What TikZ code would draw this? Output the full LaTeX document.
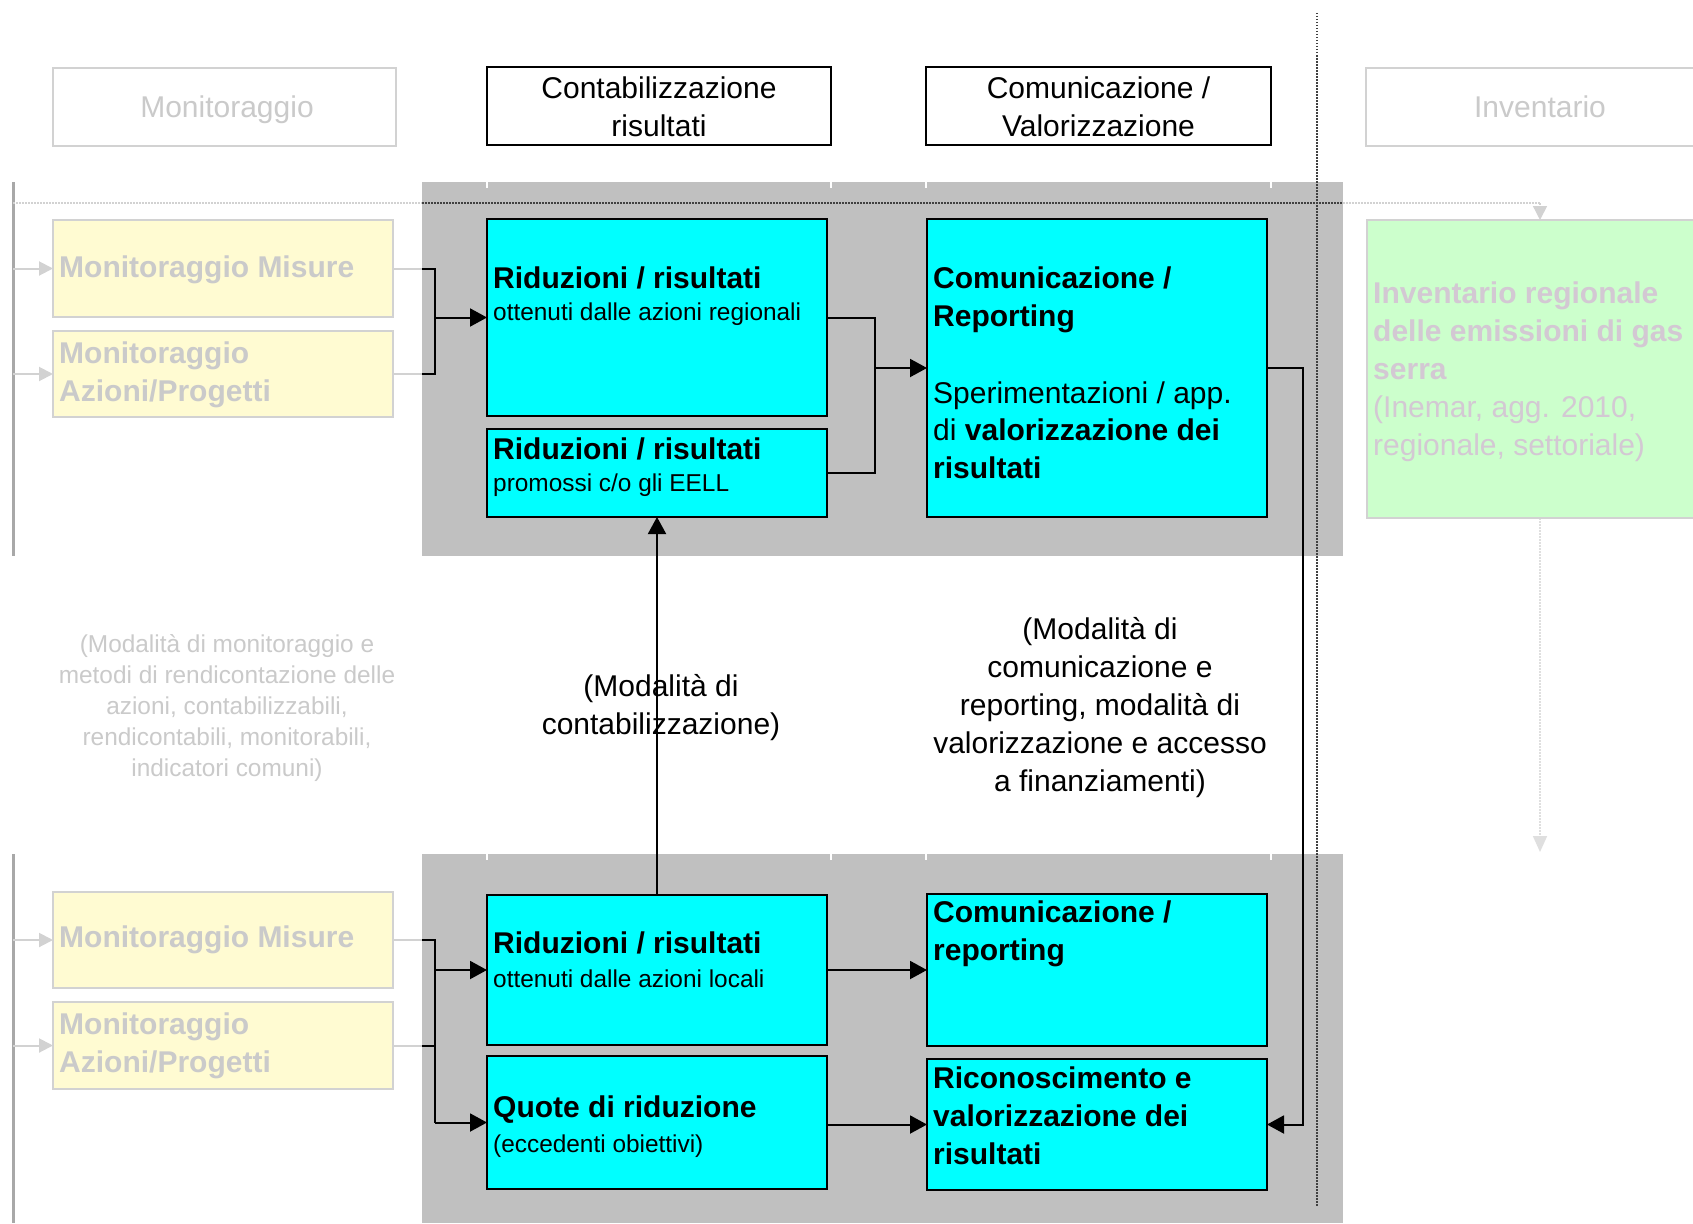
\documentclass[tikz,border=0pt]{standalone}
\usepackage{fontspec}
\setmainfont{Liberation Sans}
\usetikzlibrary{arrows.meta}
\definecolor{cyanc}{HTML}{00FFFF}
\definecolor{bandc}{HTML}{C0C0C0}
\definecolor{yelc}{HTML}{FFFBD2}
\definecolor{grnc}{HTML}{CCFFCC}
\definecolor{fadec}{HTML}{CACACA}
\definecolor{mauvec}{HTML}{D3C8D3}
\definecolor{fadeline}{HTML}{D2D2D2}
\definecolor{leftline}{HTML}{A8A8A8}
\newcommand\fbig{\fontsize{30}{38}\selectfont}
\newcommand\fmid{\fontsize{30}{37.5}\selectfont}
\newcommand\fsmall{\fontsize{24.4}{31}\selectfont}
\begin{document}
\begin{tikzpicture}[x=1pt,y=-1pt,
 cyanbox/.style={draw=black,line width=2pt,fill=cyanc,inner sep=0,outer sep=0,anchor=north west},
 yelbox/.style={draw=fadeline,line width=1.5pt,fill=yelc,inner sep=0,outer sep=0,anchor=north west},
 grnbox/.style={draw=fadeline,line width=1.5pt,fill=grnc,inner sep=0,outer sep=0,anchor=north west},
 headbox/.style={draw=black,line width=2.5pt,fill=white,inner sep=0,outer sep=0,anchor=north west},
 fadehead/.style={draw=fadeline,line width=2.5pt,fill=white,inner sep=0,outer sep=0,anchor=north west},
 bt/.style={anchor=base west,inner sep=0,font=\fbig\bfseries},
 st/.style={anchor=base west,inner sep=0,font=\fsmall},
 ht/.style={anchor=base,inner sep=0,align=center,font=\fbig},
 conn/.style={line width=2pt,black},
 arr/.style={conn,-{Triangle[length=17pt,width=18pt]}},
 fadeconn/.style={line width=2pt,fadeline},
 fadearr/.style={fadeconn,-{Triangle[length=14pt,width=14pt]}},
 dotdark/.style={line width=1.5pt,black!75,dash pattern=on 1.5pt off 1.5pt},
 dotlight/.style={line width=1.5pt,fadeline,dash pattern=on 1.5pt off 1.5pt},
 tick/.style={line width=2pt,white},
]
\useasboundingbox (0,0) rectangle (1693,1223);
\clip (0,0) rectangle (1693,1223);
\fill[white] (0,0) rectangle (1693,1223);

% gray bands
\fill[bandc] (422,182) rectangle (1343,556);
\fill[bandc] (422,854) rectangle (1343,1223);
\foreach \xx in {487,831,926,1271}{
  \draw[tick] (\xx,182) -- (\xx,188);
  \draw[tick] (\xx,854) -- (\xx,860);
}
% left vertical lines
\draw[line width=3pt,leftline] (13,182) -- (13,556);
\draw[line width=3pt,leftline] (13,854) -- (13,1223);

% dotted guide lines
\draw[dotdark] (1317,13) -- (1317,1207);
\coordinate (hl0) at (13,203);
\coordinate (hl1) at (422,203);
\coordinate (hl2) at (1343,203);
\coordinate (hl3) at (1540,203);
\coordinate (gtop) at (1540,220);
\coordinate (gbot) at (1540,518);
\coordinate (gend) at (1540,852);
\draw[dotlight] (hl0) -- (hl1);
\draw[dotdark] (hl1) -- (hl2);
\draw[dotlight] (hl2) -- (hl3);
\draw[dotlight,-{Triangle[length=14pt,width=14pt]}] (hl3) -- (gtop);
\draw[dotlight,fadeline!70,-{Triangle[length=16pt,width=14pt]}] (gbot) -- (gend);

% header boxes
\node[fadehead,minimum width=343pt,minimum height=78pt] (hmon) at (53,68) {};
\node[ht,text=fadec] (hmont) at (227,117) {Monitoraggio};
\node[headbox,minimum width=344pt,minimum height=78pt] (hcon) at (487,67) {};
\node[ht] (hcont) at (659,136) {Contabilizzazione\\risultati};
\node[headbox,minimum width=345pt,minimum height=78pt] (hcom) at (926,67) {};
\node[ht] (hcomt) at (1098.5,136) {Comunicazione /\\Valorizzazione};
\node[fadehead,minimum width=360pt,minimum height=78pt] (hinv) at (1366,68) {};
\node[ht,text=fadec] (hinvt) at (1540,117) {Inventario};

% yellow boxes (top)
\node[yelbox,minimum width=340pt,minimum height=97pt] (ym1) at (53,220) {};
\node[bt,text=fadec] (ym1t) at (59,277) {Monitoraggio Misure};
\node[yelbox,minimum width=340pt,minimum height=86pt] (ya1) at (53,331) {};
\node[bt,text=fadec,align=left] (ya1t) at (59,401) {Monitoraggio\\Azioni/Progetti};
% yellow boxes (bottom)
\node[yelbox,minimum width=340pt,minimum height=96pt] (ym2) at (53,892) {};
\node[bt,text=fadec] (ym2t) at (59,947) {Monitoraggio Misure};
\node[yelbox,minimum width=340pt,minimum height=87pt] (ya2) at (53,1002) {};
\node[bt,text=fadec,align=left] (ya2t) at (59,1072) {Monitoraggio\\Azioni/Progetti};

% cyan boxes
\node[cyanbox,minimum width=340pt,minimum height=197pt] (r1) at (487,219) {};
\node[bt] (r1a) at (493,288) {Riduzioni / risultati};
\node[st] (r1b) at (493,320) {ottenuti dalle azioni regionali};
\node[cyanbox,minimum width=340pt,minimum height=88pt] (r2) at (487,429) {};
\node[bt] (r2a) at (493,459) {Riduzioni / risultati};
\node[st] (r2b) at (493,491) {promossi c/o gli EELL};
\node[cyanbox,minimum width=340pt,minimum height=298pt] (c1) at (927,219) {};
\node[bt,align=left] (c1a) at (933,326) {Comunicazione /\\Reporting};
\node[anchor=base west,inner sep=0,align=left,font=\fmid] (c1b) at (933,478) {Sperimentazioni / app.\\di \textbf{valorizzazione dei}\\\textbf{risultati}};

\node[cyanbox,minimum width=340pt,minimum height=150pt] (l1) at (487,895) {};
\node[bt] (l1a) at (493,953) {Riduzioni / risultati};
\node[st] (l1b) at (493,987) {ottenuti dalle azioni locali};
\node[cyanbox,minimum width=340pt,minimum height=133pt] (l2) at (487,1056) {};
\node[bt] (l2a) at (493,1117) {Quote di riduzione};
\node[st] (l2b) at (493,1152) {(eccedenti obiettivi)};
\node[cyanbox,minimum width=340pt,minimum height=152pt] (c2) at (927,894) {};
\node[bt,align=left] (c2a) at (933,960) {Comunicazione /\\reporting};
\node[cyanbox,minimum width=340pt,minimum height=131pt] (c3) at (927,1059) {};
\node[bt,align=left] (c3a) at (933,1164) {Riconoscimento e\\valorizzazione dei\\risultati};

% green box
\node[grnbox,minimum width=360pt,minimum height=298pt] (gr) at (1367,220) {};
\node[anchor=base west,inner sep=0,align=left,font=\fbig,text=mauvec] (grt) at (1373,455) {\textbf{Inventario regionale}\\\textbf{delle emissioni di gas}\\\textbf{serra}\\(Inemar, agg. 2010,\\regionale, settoriale)};

% middle texts
\node[anchor=base,inner sep=0,align=center,font=\fsmall,text=fadec] (nmon) at (227,776) {(Modalità di monitoraggio e\\metodi di rendicontazione delle\\azioni, contabilizzabili,\\rendicontabili, monitorabili,\\indicatori comuni)};
\node[ht] (ncon) at (661,734) {(Modalità di\\contabilizzazione)};
\node[ht] (ncom) at (1100,791) {(Modalità di\\comunicazione e\\reporting, modalità di\\valorizzazione e accesso\\a finanziamenti)};

% connectors
\coordinate (lx) at (13,0);
\coordinate (bandl) at (422,0);
\coordinate (bk1) at (435,0);
\coordinate (bk2) at (875,0);
\coordinate (bk3) at (1303,0);
% top left
\draw[fadearr] (lx |- ym1.west) -- (ym1.west);
\draw[fadearr] (lx |- ya1.west) -- (ya1.west);
\draw[fadeconn] (ym1.east) -- (bandl |- ym1.east);
\draw[fadeconn] (ya1.east) -- (bandl |- ya1.east);
\draw[conn] (bandl |- ym1.east) -- (bk1 |- ym1.east) -- (bk1 |- ya1.east) -- (bandl |- ya1.east);
\draw[arr] (bk1 |- r1.west) -- (r1.west);
% top middle
\draw[conn] (r1.east) -- (bk2 |- r1.east) -- (bk2 |- r2.east) -- (r2.east);
\draw[arr] (bk2 |- c1.west) -- (c1.west);
% long right connector
\draw[arr] (c1.east) -- (bk3 |- c1.east) -- (bk3 |- c3.east) -- (c3.east);
% upward
\draw[arr] (l1.north) -- (r2.south);
% bottom left
\draw[fadearr] (lx |- ym2.west) -- (ym2.west);
\draw[fadearr] (lx |- ya2.west) -- (ya2.west);
\draw[fadeconn] (ym2.east) -- (bandl |- ym2.east);
\draw[fadeconn] (ya2.east) -- (bandl |- ya2.east);
\draw[conn] (bandl |- ym2.east) -- (bk1 |- ym2.east) -- (bk1 |- l2.west);
\draw[conn] (bandl |- ya2.east) -- (bk1 |- ya2.east);
\draw[arr] (bk1 |- l1.west) -- (l1.west);
\draw[arr] (bk1 |- l2.west) -- (l2.west);
% bottom middle
\draw[arr] (l1.east) -- (c2.west);
\draw[arr] (l2.east |- c3.west) -- (c3.west);
\end{tikzpicture}
\end{document}
